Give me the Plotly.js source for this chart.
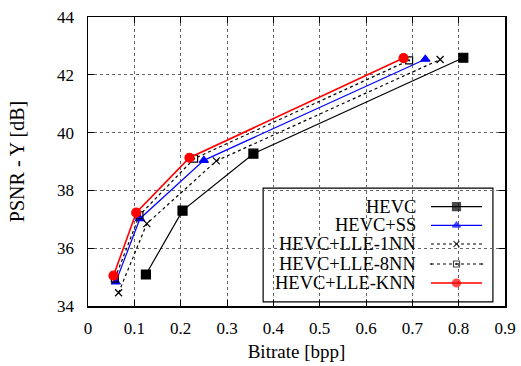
<!DOCTYPE html>
<html><head><meta charset="utf-8">
<script src="https://cdn.plot.ly/plotly-3.0.1.min.js"></script>
<style>html,body{margin:0;padding:0;background:#fff}#chart{width:521px;height:366px}</style>
</head><body><div id="chart"></div>
<script>
const seriesNames = ["HEVC", "HEVC+SS", "HEVC+LLE-1NN", "HEVC+LLE-8NN", "HEVC+LLE-KNN"];
const hevcX = [0.125, 0.204, 0.357, 0.810];
const hevcY = [35.09, 37.30, 39.27, 42.59];
const ssX = [0.060, 0.112, 0.250, 0.728];
const ssY = [34.83, 37.02, 39.04, 42.54];
const nn1X = [0.066, 0.127, 0.277, 0.760];
const nn1Y = [34.46, 36.85, 39.02, 42.53];
const nn8X = [0.058, 0.111, 0.229, 0.693];
const nn8Y = [34.95, 37.14, 39.10, 42.50];
const knnX = [0.055, 0.104, 0.219, 0.681];
const knnY = [35.05, 37.23, 39.13, 42.58];
const xTicks = [0, 0.1, 0.2, 0.3, 0.4, 0.5, 0.6, 0.7, 0.8, 0.9];
const yTicks = [34, 36, 38, 40, 42, 44];

const FONT = "Liberation Serif";
const styles = [
  {color:"#000000", dash:"solid", width:1.2, symbol:"square", size:9},
  {color:"#0000ff", dash:"solid", width:1.2, symbol:"triangle-up", size:8},
  {color:"#000000", dash:"dot", width:1.2, symbol:"x-thin-open", size:7},
  {color:"#000000", dash:"dot", width:1.2, symbol:"square-open-dot", size:7},
  {color:"#ff0000", dash:"solid", width:1.6, symbol:"circle", size:9}
];
const xs = [hevcX, ssX, nn1X, nn8X, knnX];
const ys = [hevcY, ssY, nn1Y, nn8Y, knnY];

const traces = [];
xs.forEach((x, i) => {
  const s = styles[i];
  traces.push({x: x, y: ys[i], name: seriesNames[i], mode: "lines+markers", type: "scatter",
    showlegend: false, cliponaxis: false,
    line: {color: s.color, dash: s.dash, width: s.width},
    marker: {color: s.color, symbol: s.symbol, size: s.size, line: {color: s.color, width: 1.2}}});
});

// legend samples drawn on an overlay axis with a fixed 0..1 range
const rowY = [0.3436, 0.279, 0.2145, 0.1453, 0.0796];
const annotations = [];
seriesNames.forEach((n, i) => {
  const s = styles[i];
  traces.push({x: [0.8225, 0.8837, 0.945], y: [rowY[i], rowY[i], rowY[i]], xaxis: "x2", yaxis: "y2",
    mode: "lines+markers", type: "scatter", showlegend: false, hoverinfo: "skip", cliponaxis: false,
    line: {color: s.color, dash: s.dash, width: s.width},
    marker: {color: s.color, symbol: s.symbol, size: [0, s.size - 1, 0], line: {color: s.color, width: 1.2}}});
  annotations.push({xref: "paper", yref: "paper", x: 0.7906, y: rowY[i], xanchor: "right", yanchor: "middle",
    text: n, showarrow: false, font: {family: FONT, size: 18.5, color: "#000"}});
});

const layout = {
  width: 521, height: 366,
  margin: {l: 88, r: 16, t: 17, b: 60},
  paper_bgcolor: "#fff", plot_bgcolor: "#fff",
  font: {family: FONT, color: "#000", size: 17},
  xaxis: {range: [0, 0.9], tickvals: xTicks, ticktext: xTicks.map(String), showgrid: true,
    gridcolor: "#666", griddash: "dot", gridwidth: 1, zeroline: false,
    showline: true, linecolor: "#000", linewidth: 1.5, mirror: "ticks",
    ticks: "inside", ticklen: 6, tickcolor: "#000", ticklabelstandoff: 6,
    tickfont: {family: FONT, size: 17},
    title: {text: "Bitrate [bpp]", font: {family: FONT, size: 19}, standoff: 8}},
  yaxis: {range: [34, 44], tickvals: yTicks, showgrid: true,
    gridcolor: "#666", griddash: "dot", gridwidth: 1, zeroline: false,
    showline: true, linecolor: "#000", linewidth: 1.5, mirror: "ticks",
    ticks: "inside", ticklen: 6, tickcolor: "#000", ticklabelstandoff: 9,
    tickfont: {family: FONT, size: 17},
    title: {text: "PSNR - Y [dB]", font: {family: FONT, size: 20}, standoff: 27}},
  xaxis2: {range: [0, 1], overlaying: "x", visible: false, fixedrange: true},
  yaxis2: {range: [0, 1], overlaying: "y", visible: false, fixedrange: true},
  shapes: [{type: "rect", xref: "paper", yref: "paper", x0: 0.42, x1: 0.971, y0: 0.014, y1: 0.408,
    line: {color: "#000", width: 1.2}, fillcolor: "#fff", layer: "between"}],
  annotations: annotations
};
Plotly.newPlot("chart", traces, layout, {displayModeBar: false, staticPlot: true});
</script></body></html>
